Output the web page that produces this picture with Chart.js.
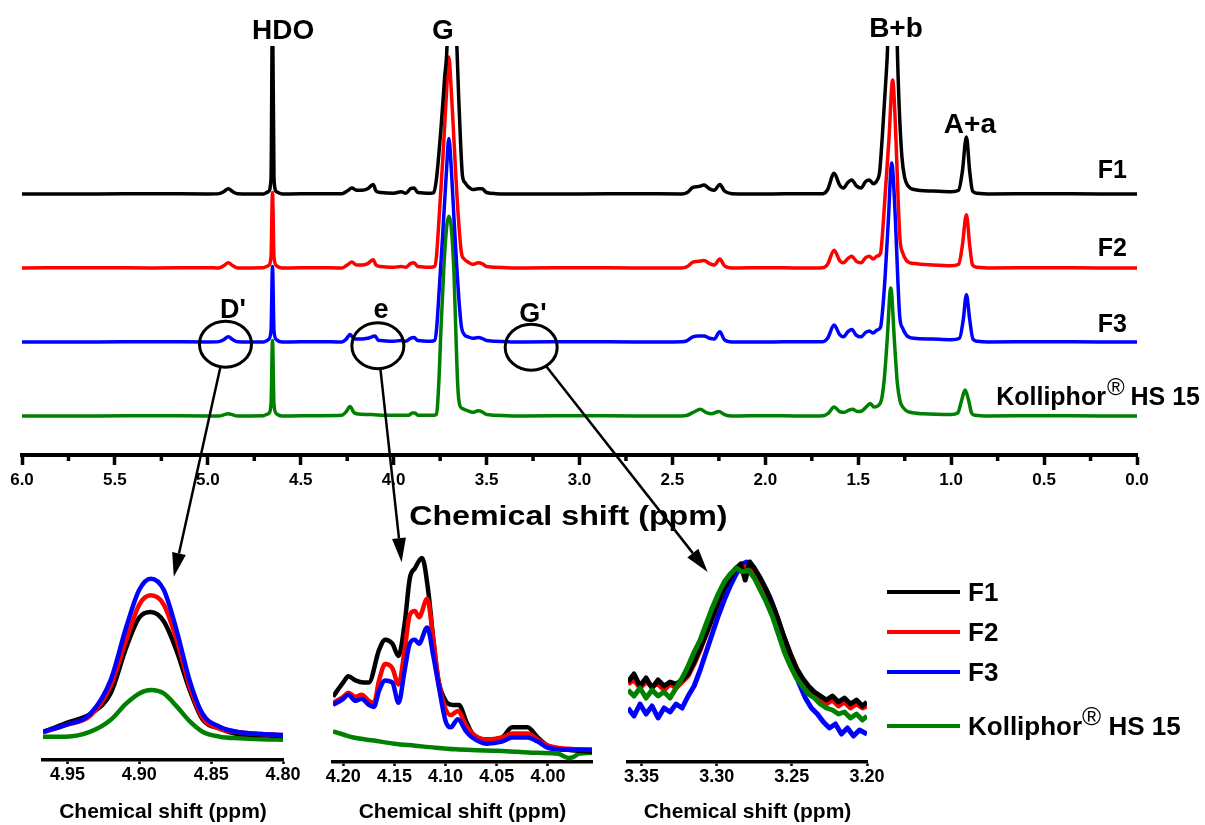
<!DOCTYPE html>
<html>
<head>
<meta charset="utf-8">
<script src="https://cdn.jsdelivr.net/npm/chart.js@4.4.1/dist/chart.umd.min.js"></script>
<style>
  body { margin: 0; background: #fff; }
  #wrap { position: relative; width: 1205px; height: 825px; font-family: "Liberation Sans", Arial, sans-serif; }
  #wrap canvas { position: absolute; }
  .row { position: absolute; left: 887px; height: 30px; display: flex; align-items: center;
         font-weight: bold; font-size: 26px; line-height: 30px; white-space: nowrap; color: #000; }
  .row i { display: inline-block; width: 73px; height: 4px; margin-right: 8px; }
  .row sup { font-weight: normal; font-size: 26px; position: relative; top: -10px; vertical-align: baseline; }
</style>
</head>
<body>
<div id="wrap">
  <canvas id="main" width="1205" height="535" style="left:0;top:0"></canvas>
  <canvas id="insD" width="330" height="285" style="left:0;top:540px"></canvas>
  <canvas id="insE" width="330" height="285" style="left:290px;top:540px"></canvas>
  <canvas id="insG" width="330" height="285" style="left:590px;top:540px"></canvas>
  <canvas id="over" width="1205" height="825" style="left:0;top:0;pointer-events:none"></canvas>
  <div class="row" style="top:577px"><i style="background:#000"></i>F1</div>
  <div class="row" style="top:617px"><i style="background:#ff0000"></i>F2</div>
  <div class="row" style="top:657px"><i style="background:#0000ff"></i>F3</div>
  <div class="row" style="top:711px"><i style="background:#008000"></i>Kolliphor<sup>®</sup>&nbsp;HS 15</div>
</div>
<script>
const FONT = '"Liberation Sans", Arial, sans-serif';
Chart.defaults.font.family = FONT;
Chart.defaults.color = '#000';

// ---- full spectra: [ppm, intensity above own baseline] ----
const f1Main = [[6.00,0],[5.60,0],[5.30,0.005],[5.00,0],[4.94,0.005],[4.915,0.03],[4.89,0.07],[4.865,0.03],[4.84,0.005],
  [4.70,0],[4.675,0.03],[4.66,0.2],[4.652,2.6],[4.644,0.2],[4.63,0.03],[4.60,0],[4.40,0.005],[4.28,0.005],[4.25,0.04],
  [4.225,0.08],[4.20,0.05],[4.17,0.05],[4.14,0.07],[4.11,0.13],[4.095,0.04],[4.07,0.02],[4.00,0.01],[3.96,0.03],[3.935,0.01],
  [3.91,0.07],[3.89,0.08],[3.87,0.02],[3.80,0.01],[3.785,0.02],[3.77,0.2],[3.745,0.9],[3.725,1.6],[3.713,2.0],[3.705,2.9],
  [3.67,2.9],[3.66,2.0],[3.65,1.3],[3.64,0.7],[3.63,0.25],[3.615,0.15],[3.60,0.1],[3.575,0.06],[3.545,0.07],[3.525,0.07],
  [3.50,0.02],[3.45,0.005],[3.30,0],[3.00,0],[2.70,0.005],[2.45,0],[2.42,0.02],[2.39,0.09],[2.36,0.1],[2.33,0.12],[2.30,0.07],
  [2.275,0.05],[2.245,0.13],[2.22,0.04],[2.18,0.005],[2.00,0],[1.80,0.005],[1.69,0.005],[1.665,0.06],[1.63,0.28],[1.60,0.12],
  [1.58,0.08],[1.555,0.16],[1.535,0.19],[1.51,0.11],[1.485,0.08],[1.46,0.17],[1.44,0.19],[1.42,0.14],[1.40,0.18],[1.385,0.3],
  [1.37,0.8],[1.35,1.6],[1.342,2.0],[1.335,2.9],[1.297,2.9],[1.29,2.0],[1.28,1.2],[1.265,0.5],[1.25,0.22],[1.235,0.12],
  [1.20,0.06],[1.10,0.04],[1.00,0.03],[0.96,0.05],[0.94,0.3],[0.918,0.77],[0.90,0.3],[0.885,0.04],[0.86,0.01],[0.80,0],
  [0.50,0.005],[0.20,0],[0.00,0]];

const f2Main = [[6.00,0],[5.60,0.005],[5.30,0],[5.00,0.005],[4.94,0],[4.915,0.03],[4.89,0.07],[4.865,0.03],[4.84,0],
  [4.70,0.005],[4.675,0.03],[4.66,0.15],[4.652,1.02],[4.644,0.15],[4.63,0.03],[4.60,0],[4.40,0.005],[4.28,0],[4.25,0.04],
  [4.225,0.08],[4.20,0.04],[4.17,0.04],[4.14,0.06],[4.11,0.11],[4.095,0.04],[4.07,0.02],[4.00,0.01],[3.96,0.02],[3.935,0.01],
  [3.91,0.06],[3.89,0.07],[3.87,0.02],[3.80,0.01],[3.78,0.02],[3.77,0.15],[3.755,0.7],[3.735,1.5],[3.715,2.4],[3.703,2.85],
  [3.69,2.4],[3.675,1.7],[3.66,1.0],[3.645,0.45],[3.635,0.2],[3.62,0.12],[3.60,0.08],[3.575,0.05],[3.545,0.07],[3.525,0.06],
  [3.50,0.02],[3.30,0],[3.00,0.005],[2.70,0],[2.45,0],[2.42,0.02],[2.39,0.08],[2.36,0.09],[2.33,0.1],[2.30,0.06],[2.275,0.04],
  [2.245,0.12],[2.22,0.03],[2.18,0],[2.00,0.005],[1.80,0],[1.69,0.005],[1.665,0.05],[1.63,0.24],[1.60,0.1],[1.58,0.07],
  [1.555,0.13],[1.535,0.16],[1.51,0.09],[1.485,0.07],[1.46,0.14],[1.44,0.16],[1.42,0.12],[1.40,0.16],[1.38,0.2],[1.37,0.45],
  [1.355,1.0],[1.335,1.73],[1.315,2.54],[1.297,1.73],[1.285,0.9],[1.275,0.38],[1.26,0.2],[1.24,0.1],[1.22,0.07],[1.20,0.06],
  [1.10,0.04],[1.00,0.03],[0.96,0.05],[0.94,0.3],[0.918,0.72],[0.90,0.3],[0.885,0.04],[0.86,0.01],[0.80,0],[0.50,0.005],
  [0.20,0],[0.00,0]];

const f3Main = [[6.00,0],[5.60,0],[5.30,0.005],[5.00,0],[4.94,0.005],[4.915,0.03],[4.89,0.07],[4.865,0.03],[4.84,0.005],
  [4.70,0],[4.675,0.03],[4.66,0.15],[4.652,1.02],[4.644,0.15],[4.63,0.03],[4.60,0],[4.40,0.005],[4.28,0],[4.255,0.04],
  [4.235,0.1],[4.21,0.04],[4.17,0.04],[4.14,0.05],[4.10,0.08],[4.085,0.03],[4.07,0.02],[4.00,0.01],[3.96,0.02],[3.935,0.01],
  [3.91,0.05],[3.89,0.06],[3.87,0.02],[3.80,0.01],[3.78,0.02],[3.77,0.15],[3.755,0.7],[3.735,1.5],[3.715,2.35],[3.703,2.75],
  [3.69,2.35],[3.675,1.65],[3.66,1.0],[3.645,0.45],[3.635,0.2],[3.62,0.1],[3.60,0.07],[3.575,0.05],[3.545,0.06],[3.525,0.05],
  [3.50,0.02],[3.30,0],[3.00,0.005],[2.70,0],[2.45,0.005],[2.42,0.02],[2.39,0.07],[2.36,0.08],[2.33,0.08],[2.30,0.05],
  [2.275,0.04],[2.245,0.14],[2.22,0.03],[2.18,0],[2.00,0],[1.80,0.005],[1.69,0.005],[1.665,0.05],[1.63,0.23],[1.60,0.1],
  [1.58,0.07],[1.555,0.14],[1.535,0.17],[1.51,0.09],[1.485,0.07],[1.46,0.13],[1.44,0.15],[1.42,0.12],[1.40,0.16],[1.38,0.2],
  [1.37,0.4],[1.355,0.9],[1.338,1.65],[1.32,2.42],[1.30,1.65],[1.288,0.9],[1.277,0.35],[1.26,0.18],[1.24,0.09],[1.22,0.06],
  [1.20,0.05],[1.10,0.04],[1.00,0.03],[0.955,0.05],[0.935,0.3],[0.918,0.64],[0.90,0.3],[0.883,0.04],[0.86,0.01],[0.80,0],
  [0.50,0.005],[0.20,0],[0.00,0]];

const kolMain = [[6.00,0],[5.60,0],[5.30,0.005],[5.00,0],[4.94,0],[4.915,0.015],[4.89,0.03],[4.865,0.015],[4.84,0],
  [4.70,0.005],[4.675,0.03],[4.66,0.15],[4.652,1.02],[4.644,0.15],[4.63,0.03],[4.60,0],[4.40,0.005],[4.28,0.01],[4.255,0.06],
  [4.235,0.13],[4.215,0.05],[4.20,0.03],[4.15,0.02],[4.12,0.02],[4.05,0.01],[4.00,0.01],[3.92,0.01],[3.90,0.04],[3.885,0.04],
  [3.87,0.01],[3.80,0.01],[3.77,0.02],[3.758,0.4],[3.745,1.2],[3.73,2.0],[3.715,2.55],[3.703,2.7],[3.69,2.55],[3.675,1.9],
  [3.665,1.1],[3.655,0.4],[3.645,0.15],[3.63,0.1],[3.60,0.07],[3.575,0.05],[3.545,0.07],[3.52,0.05],[3.50,0.02],[3.30,0],
  [3.00,0.005],[2.70,0],[2.45,0],[2.42,0.01],[2.38,0.06],[2.35,0.09],[2.32,0.05],[2.29,0.03],[2.25,0.06],[2.22,0.02],[2.18,0],
  [2.00,0.005],[1.80,0],[1.69,0.005],[1.66,0.04],[1.63,0.12],[1.60,0.06],[1.575,0.05],[1.55,0.08],[1.53,0.09],[1.505,0.06],
  [1.48,0.07],[1.45,0.14],[1.435,0.17],[1.415,0.12],[1.40,0.13],[1.375,0.22],[1.36,0.5],[1.345,1.0],[1.325,1.73],[1.305,1.0],
  [1.29,0.45],[1.275,0.2],[1.26,0.12],[1.24,0.07],[1.22,0.05],[1.15,0.03],[1.00,0.02],[0.965,0.04],[0.945,0.2],[0.925,0.35],
  [0.905,0.2],[0.89,0.04],[0.87,0.01],[0.80,0],[0.50,0.005],[0.20,0],[0.00,0]];

const mainSeries = [f1Main, f2Main, f3Main, kolMain];
const stackOffsets = [3, 2, 1, 0];
const seriesColors = ['#000000', '#ff0000', '#0000ff', '#008000'];
const xTicksMain = [6.0, 5.5, 5.0, 4.5, 4.0, 3.5, 3.0, 2.5, 2.0, 1.5, 1.0, 0.5, 0.0];

// ---- inset D' (4.97 - 4.80 ppm) ----
const dTicks = [4.95, 4.90, 4.85, 4.80];
const dF1 = [[4.967,0.15],[4.951,0.20],[4.934,0.25],[4.920,0.36],[4.909,0.61],[4.900,0.77],[4.892,0.80],[4.883,0.75],
  [4.874,0.59],[4.865,0.38],[4.856,0.22],[4.844,0.17],[4.830,0.14],[4.815,0.135],[4.80,0.13]];
const dF2 = [[4.967,0.15],[4.951,0.19],[4.934,0.24],[4.920,0.40],[4.909,0.65],[4.900,0.84],[4.892,0.89],[4.883,0.84],
  [4.874,0.65],[4.865,0.40],[4.856,0.23],[4.844,0.17],[4.830,0.15],[4.815,0.14],[4.80,0.135]];
const dF3 = [[4.967,0.153],[4.951,0.19],[4.934,0.25],[4.920,0.43],[4.909,0.72],[4.900,0.92],[4.892,0.98],[4.883,0.92],
  [4.874,0.70],[4.865,0.43],[4.856,0.25],[4.844,0.18],[4.830,0.15],[4.815,0.14],[4.80,0.135]];
const dKol = [[4.967,0.126],[4.951,0.126],[4.934,0.153],[4.920,0.216],[4.909,0.306],[4.900,0.36],[4.892,0.378],[4.883,0.36],
  [4.874,0.29],[4.865,0.21],[4.856,0.153],[4.844,0.126],[4.830,0.117],[4.815,0.112],[4.80,0.11]];

// ---- inset e (4.21 - 3.957 ppm) ----
const eTicks = [4.20, 4.15, 4.10, 4.05, 4.00];
const eF1 = [[4.21,0.32],[4.20,0.39],[4.195,0.42],[4.188,0.40],[4.18,0.39],[4.175,0.39],[4.165,0.55],[4.159,0.60],[4.152,0.58],
  [4.146,0.52],[4.14,0.68],[4.135,0.90],[4.13,0.95],[4.123,1.0],[4.117,0.84],[4.112,0.6],[4.107,0.40],[4.10,0.30],[4.093,0.28],
  [4.087,0.28],[4.08,0.2],[4.074,0.14],[4.06,0.11],[4.045,0.12],[4.035,0.17],[4.02,0.17],[4.01,0.12],[4.00,0.08],[3.98,0.06],
  [3.957,0.05]];
const eF2 = [[4.21,0.29],[4.20,0.32],[4.195,0.34],[4.188,0.32],[4.182,0.33],[4.175,0.30],[4.17,0.29],[4.165,0.40],[4.159,0.48],
  [4.152,0.46],[4.146,0.38],[4.14,0.55],[4.135,0.72],[4.13,0.74],[4.126,0.71],[4.118,0.80],[4.112,0.6],[4.107,0.40],[4.10,0.26],
  [4.095,0.23],[4.088,0.25],[4.08,0.18],[4.074,0.14],[4.06,0.11],[4.045,0.12],[4.035,0.14],[4.02,0.14],[4.01,0.11],[4.00,0.08],
  [3.98,0.065],[3.957,0.06]];
const eF3 = [[4.21,0.28],[4.20,0.31],[4.195,0.33],[4.188,0.30],[4.182,0.31],[4.175,0.28],[4.17,0.27],[4.165,0.35],[4.159,0.40],
  [4.152,0.39],[4.146,0.29],[4.14,0.45],[4.135,0.58],[4.13,0.60],[4.126,0.58],[4.118,0.66],[4.112,0.52],[4.107,0.38],[4.10,0.20],
  [4.095,0.17],[4.088,0.21],[4.08,0.15],[4.074,0.12],[4.06,0.09],[4.045,0.10],[4.035,0.12],[4.02,0.12],[4.01,0.10],[4.00,0.07],
  [3.98,0.06],[3.957,0.06]];
const eKol = [[4.21,0.15],[4.20,0.135],[4.19,0.12],[4.17,0.105],[4.15,0.09],[4.13,0.08],[4.11,0.07],[4.09,0.062],[4.07,0.058],
  [4.05,0.055],[4.03,0.05],[4.01,0.045],[3.99,0.04],[3.98,0.02],[3.975,0.025],[3.97,0.04],[3.957,0.045]];

// ---- inset G' (3.36 - 3.20 ppm) ----
const gTicks = [3.35, 3.30, 3.25, 3.20];
const gF1 = [[3.359,0.40],[3.355,0.44],[3.351,0.38],[3.347,0.42],[3.343,0.37],[3.339,0.41],[3.335,0.38],[3.331,0.40],
  [3.327,0.39],[3.323,0.41],[3.319,0.44],[3.315,0.50],[3.311,0.57],[3.307,0.64],[3.303,0.72],[3.299,0.80],[3.295,0.87],
  [3.291,0.92],[3.287,0.97],[3.284,0.99],[3.281,0.91],[3.278,1.0],[3.275,0.97],[3.271,0.92],[3.267,0.86],[3.263,0.79],
  [3.259,0.71],[3.255,0.62],[3.251,0.54],[3.247,0.47],[3.243,0.42],[3.239,0.38],[3.235,0.35],[3.231,0.33],[3.227,0.31],
  [3.223,0.33],[3.219,0.30],[3.215,0.32],[3.211,0.29],[3.207,0.31],[3.203,0.28],[3.200,0.30]];
const gF2 = [[3.359,0.39],[3.355,0.41],[3.351,0.37],[3.347,0.40],[3.343,0.38],[3.339,0.39],[3.335,0.36],[3.331,0.39],
  [3.327,0.37],[3.323,0.40],[3.319,0.43],[3.315,0.49],[3.311,0.56],[3.307,0.64],[3.303,0.72],[3.299,0.80],[3.295,0.87],
  [3.291,0.93],[3.287,0.97],[3.283,0.98],[3.279,0.97],[3.275,0.95],[3.271,0.91],[3.267,0.85],[3.263,0.78],[3.259,0.70],
  [3.255,0.62],[3.251,0.54],[3.247,0.47],[3.243,0.41],[3.239,0.37],[3.235,0.34],[3.231,0.32],[3.227,0.29],[3.223,0.31],
  [3.219,0.28],[3.215,0.30],[3.211,0.27],[3.207,0.29],[3.203,0.27],[3.200,0.28]];
const gF3 = [[3.359,0.27],[3.355,0.23],[3.351,0.29],[3.347,0.24],[3.343,0.28],[3.339,0.22],[3.335,0.27],[3.331,0.25],
  [3.327,0.29],[3.323,0.27],[3.319,0.33],[3.315,0.38],[3.311,0.46],[3.307,0.55],[3.303,0.64],[3.299,0.73],[3.295,0.81],
  [3.291,0.88],[3.287,0.94],[3.283,0.99],[3.280,1.0],[3.277,0.97],[3.273,0.94],[3.269,0.89],[3.265,0.83],[3.261,0.75],
  [3.257,0.66],[3.253,0.56],[3.249,0.47],[3.245,0.39],[3.241,0.32],[3.237,0.27],[3.233,0.24],[3.229,0.20],[3.225,0.17],
  [3.221,0.19],[3.217,0.14],[3.213,0.17],[3.209,0.13],[3.205,0.16],[3.200,0.14]];
const gKol = [[3.359,0.36],[3.355,0.33],[3.351,0.37],[3.347,0.32],[3.343,0.36],[3.339,0.33],[3.335,0.35],[3.331,0.32],
  [3.327,0.37],[3.323,0.42],[3.319,0.48],[3.315,0.55],[3.311,0.61],[3.307,0.69],[3.303,0.77],[3.299,0.84],[3.295,0.90],
  [3.291,0.94],[3.287,0.97],[3.283,0.95],[3.279,0.96],[3.275,0.92],[3.271,0.86],[3.267,0.80],[3.263,0.73],[3.259,0.64],
  [3.255,0.55],[3.251,0.48],[3.247,0.42],[3.243,0.38],[3.239,0.34],[3.235,0.32],[3.231,0.29],[3.227,0.27],[3.223,0.26],
  [3.219,0.24],[3.215,0.25],[3.211,0.22],[3.207,0.24],[3.203,0.21],[3.200,0.23]];

// peak annotations on the main spectrum (ppm, stacked intensity)
const peakLabels = [
  { t: 'HDO', x: 4.595, y: 5.095, size: 28 },
  { t: 'G',   x: 3.735, y: 5.095, size: 28 },
  { t: 'B+b', x: 1.297, y: 5.12,  size: 28 },
  { t: 'A+a', x: 0.899, y: 3.82,  size: 28 },
  { t: "D'",  x: 4.865, y: 1.32,  size: 27 },
  { t: 'e',   x: 4.068, y: 1.32,  size: 27 },
  { t: "G'",  x: 3.25,  y: 1.27,  size: 27 },
  { t: 'F1',  x: 0.054, y: 3.22,  size: 25, align: 'right' },
  { t: 'F2',  x: 0.054, y: 2.16,  size: 25, align: 'right' },
  { t: 'F3',  x: 0.054, y: 1.135, size: 25, align: 'right' }
];

const mainDecor = {
  id: 'mainDecor',
  afterDraw(chart) {
    const { ctx, chartArea, scales: { x, y } } = chart;
    ctx.save();
    // short minor ticks
    ctx.strokeStyle = '#000';
    ctx.lineWidth = 3.5;
    for (let v = 0.25; v < 6; v += 0.5) {
      const px = x.getPixelForValue(v);
      ctx.beginPath();
      ctx.moveTo(px, chartArea.bottom);
      ctx.lineTo(px, chartArea.bottom + 6);
      ctx.stroke();
    }
    ctx.fillStyle = '#000';
    // axis title, slightly widened like the original lettering
    ctx.save();
    ctx.translate(x.getPixelForValue(3.06), chartArea.bottom + 62);
    ctx.scale(1.15, 1);
    ctx.font = `bold 28px ${FONT}`;
    ctx.textAlign = 'center';
    ctx.textBaseline = 'middle';
    ctx.fillText('Chemical shift (ppm)', 0, 0);
    ctx.restore();

    ctx.textBaseline = 'alphabetic';
    peakLabels.forEach(l => {
      ctx.font = `bold ${l.size}px ${FONT}`;
      ctx.textAlign = l.align || 'center';
      ctx.fillText(l.t, x.getPixelForValue(l.x), y.getPixelForValue(l.y));
    });
    // Kolliphor(R) HS 15 label, right aligned
    const right = x.getPixelForValue(-0.339), base = y.getPixelForValue(0.15);
    const bold = `bold 25px ${FONT}`, reg = `normal 24px ${FONT}`;
    ctx.textAlign = 'left';
    ctx.font = bold; const w1 = ctx.measureText('Kolliphor').width, w3 = ctx.measureText(' HS 15').width;
    ctx.font = reg; const w2 = ctx.measureText('®').width;
    const sx = right - (w1 + w2 + w3);
    ctx.font = bold; ctx.fillText('Kolliphor', sx, base);
    ctx.font = reg; ctx.fillText('®', sx + w1 + 1, base - 10);
    ctx.font = bold; ctx.fillText(' HS 15', sx + w1 + w2, base);
    ctx.restore();
  }
};

const mainChart = new Chart(document.getElementById('main'), {
  type: 'line',
  data: {
    datasets: mainSeries.map((s, i) => ({
      data: s.map(p => ({ x: p[0], y: p[1] + stackOffsets[i] })),
      borderColor: seriesColors[i],
      borderWidth: 3.5,
      borderJoinStyle: 'round',
      pointRadius: 0,
      tension: 0.3,
      cubicInterpolationMode: 'monotone',
      fill: false
    }))
  },
  options: {
    responsive: false, animation: false, events: [],
    layout: { padding: { left: 22, right: 68, top: 46, bottom: 0 } },
    plugins: { legend: { display: false }, tooltip: { enabled: false } },
    scales: {
      x: {
        type: 'linear', reverse: true, min: 0, max: 6,
        afterFit: s => { s.height = 80; },
        afterBuildTicks: s => { s.ticks = xTicksMain.map(v => ({ value: v })); },
        border: { display: true, width: 4, color: '#000' },
        grid: { display: true, drawOnChartArea: false, tickLength: 10, tickWidth: 3.5, tickColor: '#000' },
        ticks: { padding: 7, autoSkip: false, maxRotation: 0, color: '#000',
                 font: { size: 17, weight: 'bold', lineHeight: 1 }, callback: v => Number(v).toFixed(1) },
        title: { display: false }
      },
      y: { display: false, min: -0.527, max: 5 }
    }
  },
  plugins: [mainDecor]
});

function makeInset(id, series, colors, tickVals, xmin, xmax, ymax, pad, scaleH, lw, smooth) {
  return new Chart(document.getElementById(id), {
    type: 'line',
    data: {
      datasets: series.map((s, i) => ({
        data: s.map(p => ({ x: p[0], y: p[1] })),
        borderColor: colors[i],
        borderWidth: lw,
        borderJoinStyle: 'round',
        pointRadius: 0,
        tension: smooth ? 0.4 : 0,
        cubicInterpolationMode: smooth ? 'monotone' : 'default',
        fill: false
      }))
    },
    options: {
      responsive: false, animation: false, events: [],
      layout: { padding: pad },
      plugins: { legend: { display: false }, tooltip: { enabled: false } },
      scales: {
        x: {
          type: 'linear', reverse: true, min: xmin, max: xmax, bounds: 'data',
          afterFit: s => { s.height = scaleH; },
          afterBuildTicks: s => { s.ticks = tickVals.map(v => ({ value: v })); },
          border: { display: true, width: 3.5, color: '#000' },
          grid: { display: true, drawOnChartArea: false, tickLength: 4, tickWidth: 2.5, tickColor: '#000' },
          ticks: { padding: 2, autoSkip: false, maxRotation: 0, color: '#000',
                   font: { size: 18, weight: 'bold', lineHeight: 1 }, callback: v => Number(v).toFixed(2) },
          title: { display: true, text: 'Chemical shift (ppm)', color: '#000', padding: 0,
                   font: { size: 21, weight: 'bold', lineHeight: 1.2 } }
        },
        y: { display: false, min: 0, max: ymax }
      }
    }
  });
}

// first series in each list is drawn on top
const insD = makeInset('insD', [dF3, dF2, dF1, dKol], ['#0000ff', '#ff0000', '#000000', '#008000'], dTicks,
  4.80, 4.967, 1.0, { left: 43, right: 47, top: 35, bottom: 0 }, 65, 4.5, true);
const insE = makeInset('insE', [eF3, eF2, eF1, eKol], ['#0000ff', '#ff0000', '#000000', '#008000'], eTicks,
  3.957, 4.21, 1.02, { left: 43, right: 28, top: 14, bottom: 0 }, 63, 4.5, true);
const insG = makeInset('insG', [gKol, gF1, gF2, gF3], ['#008000', '#000000', '#ff0000', '#0000ff'], gTicks,
  3.20, 3.359, 1.02, { left: 38, right: 53, top: 18, bottom: 0 }, 63, 5, false);

// circles on the F3 trace and arrows to the expanded regions
const zoomMarks = [
  { ppm: 4.905, val: 0.97, chart: insD, tipPpm: 4.876, tipVal: 0.99 },
  { ppm: 4.085, val: 0.95, chart: insE, tipPpm: 4.143, tipVal: 0.98 },
  { ppm: 3.26,  val: 0.93, chart: insG, tipPpm: 3.306, tipVal: 0.95 }
];

function drawOverlay() {
  const ctx = document.getElementById('over').getContext('2d');
  const mx = mainChart.scales.x, my = mainChart.scales.y;
  const RX = 26, RY = 23, HEAD = 24, HALF = 7;
  ctx.strokeStyle = '#000';
  ctx.fillStyle = '#000';
  zoomMarks.forEach(m => {
    const cx = mx.getPixelForValue(m.ppm), cy = my.getPixelForValue(m.val);
    const cv = m.chart.canvas;
    const tx = m.chart.scales.x.getPixelForValue(m.tipPpm) + cv.offsetLeft;
    const ty = m.chart.scales.y.getPixelForValue(m.tipVal) + cv.offsetTop;
    ctx.lineWidth = 3;
    ctx.beginPath();
    ctx.ellipse(cx, cy, RX, RY, 0, 0, Math.PI * 2);
    ctx.stroke();
    const dx = tx - cx, dy = ty - cy;
    const k = 1 / Math.sqrt((dx / RX) ** 2 + (dy / RY) ** 2);
    const sx = cx + dx * k, sy = cy + dy * k;
    const len = Math.hypot(tx - sx, ty - sy), ux = (tx - sx) / len, uy = (ty - sy) / len;
    const bx = tx - ux * HEAD, by = ty - uy * HEAD;
    ctx.lineWidth = 2.5;
    ctx.beginPath();
    ctx.moveTo(sx, sy);
    ctx.lineTo(bx, by);
    ctx.stroke();
    ctx.beginPath();
    ctx.moveTo(tx, ty);
    ctx.lineTo(bx - uy * HALF, by + ux * HALF);
    ctx.lineTo(bx + uy * HALF, by - ux * HALF);
    ctx.closePath();
    ctx.fill();
  });
}
drawOverlay();
</script>
</body>
</html>
